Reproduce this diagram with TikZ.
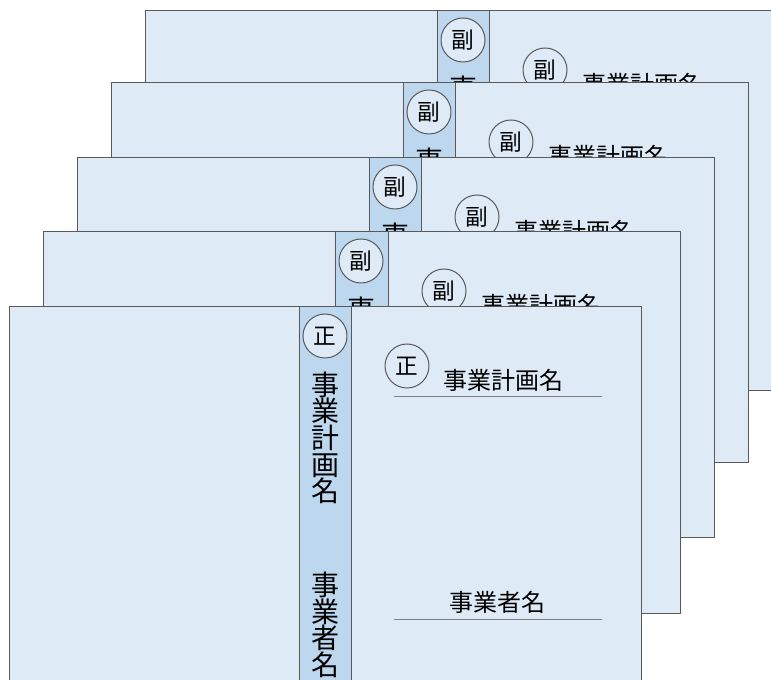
\documentclass[tikz,border=0pt]{standalone}
\usepackage{fontspec}
\setmainfont{Noto Sans CJK JP}
\usepackage{tikz}
\setlength{\lineskiplimit}{-100pt}

\begin{document}
\begin{tikzpicture}[x=0.75pt,y=0.75pt,yscale=-1,xscale=1,
  cover/.style={draw={rgb, 255:red, 89; green, 89; blue, 89}, fill={rgb, 255:red, 222; green, 235; blue, 247}, line width=0.75},
  spine/.style={draw={rgb, 255:red, 89; green, 89; blue, 89}, fill={rgb, 255:red, 189; green, 215; blue, 238}, line width=0.75},
  stamp/.style={circle, draw={rgb, 255:red, 89; green, 89; blue, 89}, fill={rgb, 255:red, 222; green, 235; blue, 247}, line width=0.75, minimum size=33pt, inner sep=0pt, font=\fontsize{17}{17}\selectfont},
  spinetext/.style={align=center, inner sep=0pt, font=\fontsize{21}{20}\selectfont},
  titletext/.style={inner sep=0.75pt, font=\fontsize{18}{18}\selectfont},
  rule/.style={draw={rgb, 255:red, 127; green, 127; blue, 127}, line width=0.75}
]
\useasboundingbox (0,0) rectangle (771,680);
\clip (0,0) rectangle (771,680);

%Binder 1 (back)
\draw [cover] (145,11) rectangle (782,391);
\draw [spine] (437,11) rectangle (489,391);
\node [stamp] (spinemark1) at (463,40) {副};
\node [spinetext] (spinetitle1) at (463,142) {事\\業\\計\\画\\名};
\node [stamp] (mark1) at (545,70) {副};
% Text Node
\node [titletext] (title1) at (642,84) {事業計画名};

%Binder 2
\draw [cover] (111,83) rectangle (748,463);
\draw [spine] (403,83) rectangle (455,463);
\node [stamp] (spinemark2) at (429,112) {副};
\node [spinetext] (spinetitle2) at (429,214) {事\\業\\計\\画\\名};
\node [stamp] (mark2) at (511,142) {副};
% Text Node
\node [titletext] (title2) at (608,156) {事業計画名};

%Binder 3
\draw [cover] (77,158) rectangle (714,538);
\draw [spine] (369,158) rectangle (421,538);
\node [stamp] (spinemark3) at (395,187) {副};
\node [spinetext] (spinetitle3) at (395,289) {事\\業\\計\\画\\名};
\node [stamp] (mark3) at (477,217) {副};
% Text Node
\node [titletext] (title3) at (574,231) {事業計画名};

%Binder 4
\draw [cover] (43,232) rectangle (680,613);
\draw [spine] (335,232) rectangle (388,613);
\node [stamp] (spinemark4) at (361,261) {副};
\node [spinetext] (spinetitle4) at (361,363) {事\\業\\計\\画\\名};
\node [stamp] (mark4) at (444,291) {副};
% Text Node
\node [titletext] (title4) at (541,305) {事業計画名};

%Binder 5 (front)
\draw [cover] (9,307) rectangle (641,687);
\draw [spine] (299,307) rectangle (351,687);
\node [stamp] (spinemark5) at (325,336) {正};
\node [spinetext] (spinetitle5) at (325,438) {事\\業\\計\\画\\名};
\node [spinetext] (spineowner5) at (325,625) {事\\業\\者\\名};
\node [stamp] (mark5) at (407,366) {正};
% Text Node
\node [titletext] (title5) at (503,380) {事業計画名};
\draw [rule] (394,397) -- (602,397) ;
% Text Node
\node [titletext] (owner5) at (497,602) {事業者名};
\draw [rule] (394,619) -- (602,619) ;

\end{tikzpicture}
\end{document}
